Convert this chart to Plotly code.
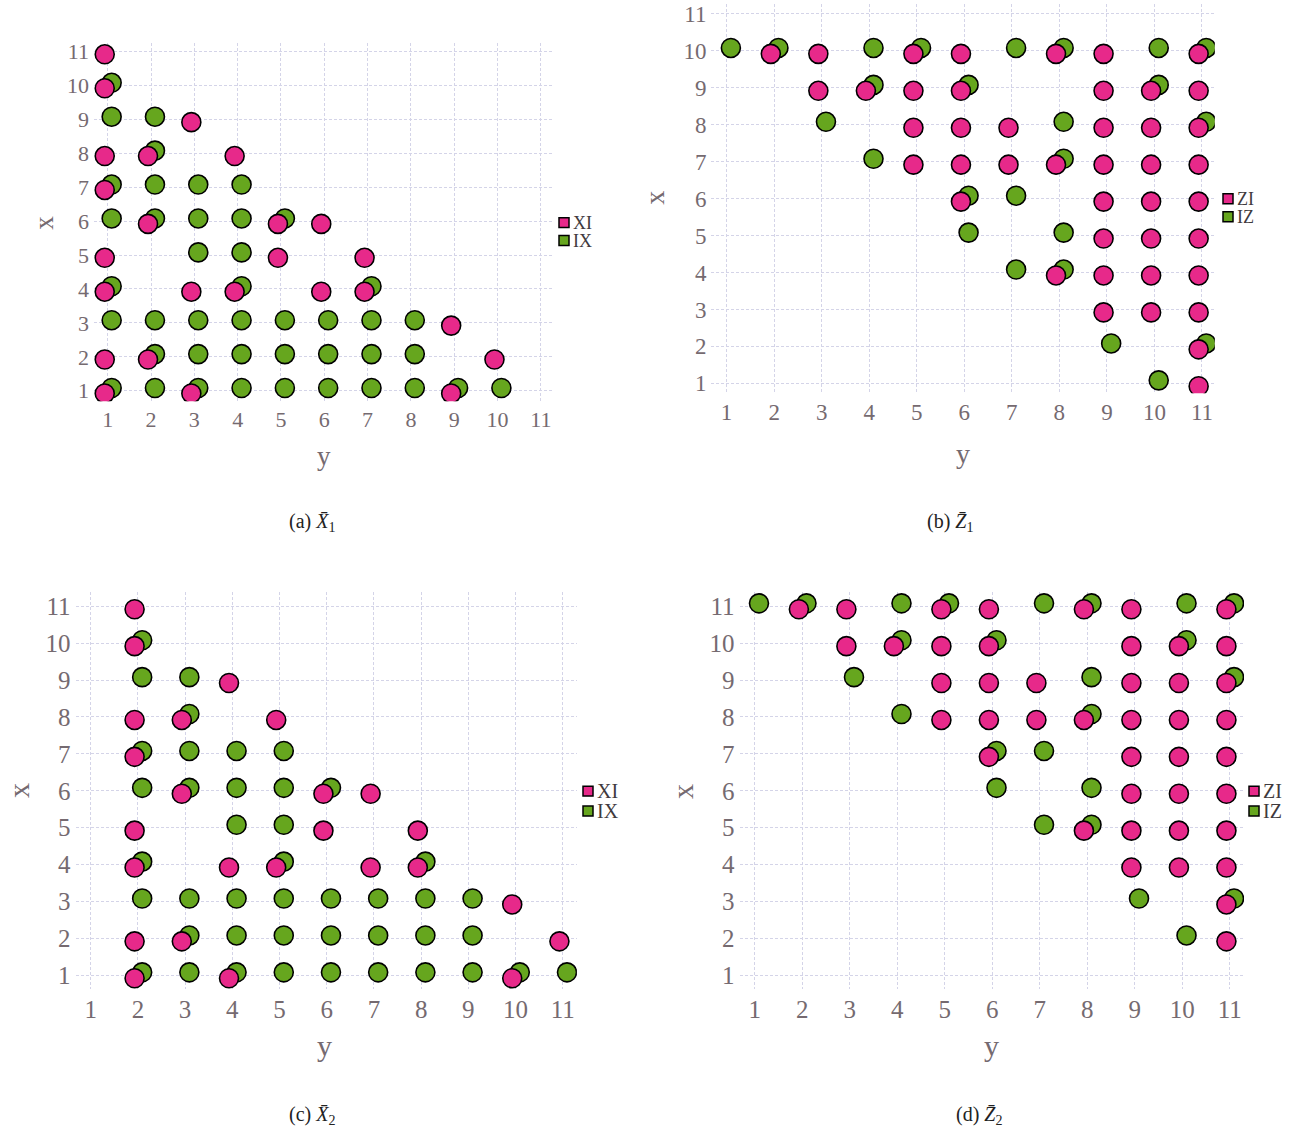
import plotly.graph_objects as go

# ---------------- data: (y, x) grid positions ----------------
# Panel (a)  X̄1
a_XI_y = [1, 1, 3, 1, 2, 4, 1, 2, 5, 6, 1, 5, 7, 1, 3, 4, 6, 7, 9, 1, 2, 10, 1, 3, 9]
a_XI_x = [11, 10, 9, 8, 8, 8, 7, 6, 6, 6, 5, 5, 5, 4, 4, 4, 4, 4, 3, 2, 2, 2, 1, 1, 1]
a_IX_y = [1, 1, 2, 2, 1, 2, 3, 4, 1, 2, 3, 4, 5, 3, 4, 1, 4, 7,
          1, 2, 3, 4, 5, 6, 7, 8, 2, 3, 4, 5, 6, 7, 8, 1, 2, 3, 4, 5, 6, 7, 8, 9, 10]
a_IX_x = [10, 9, 9, 8, 7, 7, 7, 7, 6, 6, 6, 6, 6, 5, 5, 4, 4, 4,
          3, 3, 3, 3, 3, 3, 3, 3, 2, 2, 2, 2, 2, 2, 2, 1, 1, 1, 1, 1, 1, 1, 1, 1, 1]

# Panel (b)  Z̄1
b_ZI_y = [2, 3, 5, 6, 8, 9, 11, 3, 4, 5, 6, 9, 10, 11, 5, 6, 7, 9, 10, 11,
          5, 6, 7, 8, 9, 10, 11, 6, 9, 10, 11, 9, 10, 11, 8, 9, 10, 11, 9, 10, 11, 11, 11]
b_ZI_x = [10, 10, 10, 10, 10, 10, 10, 9, 9, 9, 9, 9, 9, 9, 8, 8, 8, 8, 8, 8,
          7, 7, 7, 7, 7, 7, 7, 6, 6, 6, 6, 5, 5, 5, 4, 4, 4, 4, 3, 3, 3, 2, 1]
b_IZ_y = [1, 2, 4, 5, 7, 8, 10, 11, 4, 6, 10, 3, 8, 11, 4, 8, 6, 7, 6, 8, 7, 8, 9, 11, 10]
b_IZ_x = [10, 10, 10, 10, 10, 10, 10, 10, 9, 9, 9, 8, 8, 8, 7, 7, 6, 6, 5, 5, 4, 4, 2, 2, 1]

# Panel (c)  X̄2
c_XI_y = [2, 2, 4, 2, 3, 5, 2, 3, 6, 7, 2, 6, 8, 2, 4, 5, 7, 8, 10, 2, 3, 11, 2, 4, 10]
c_XI_x = [11, 10, 9, 8, 8, 8, 7, 6, 6, 6, 5, 5, 5, 4, 4, 4, 4, 4, 3, 2, 2, 2, 1, 1, 1]
c_IX_y = [2, 2, 3, 3, 2, 3, 4, 5, 2, 3, 4, 5, 6, 4, 5, 2, 5, 8,
          2, 3, 4, 5, 6, 7, 8, 9, 3, 4, 5, 6, 7, 8, 9, 2, 3, 4, 5, 6, 7, 8, 9, 10, 11]
c_IX_x = [10, 9, 9, 8, 7, 7, 7, 7, 6, 6, 6, 6, 6, 5, 5, 4, 4, 4,
          3, 3, 3, 3, 3, 3, 3, 3, 2, 2, 2, 2, 2, 2, 2, 1, 1, 1, 1, 1, 1, 1, 1, 1, 1]

# Panel (d)  Z̄2
d_ZI_y = [2, 3, 5, 6, 8, 9, 11, 3, 4, 5, 6, 9, 10, 11, 5, 6, 7, 9, 10, 11,
          5, 6, 7, 8, 9, 10, 11, 6, 9, 10, 11, 9, 10, 11, 8, 9, 10, 11, 9, 10, 11, 11, 11]
d_ZI_x = [11, 11, 11, 11, 11, 11, 11, 10, 10, 10, 10, 10, 10, 10, 9, 9, 9, 9, 9, 9,
          8, 8, 8, 8, 8, 8, 8, 7, 7, 7, 7, 6, 6, 6, 5, 5, 5, 5, 4, 4, 4, 3, 2]
d_IZ_y = [1, 2, 4, 5, 7, 8, 10, 11, 4, 6, 10, 3, 8, 11, 4, 8, 6, 7, 6, 8, 7, 8, 9, 11, 10]
d_IZ_x = [11, 11, 11, 11, 11, 11, 11, 11, 10, 10, 10, 9, 9, 9, 8, 8, 7, 7, 6, 6, 5, 5, 3, 3, 2]

tick_vals = list(range(1, 12))
tick_text = [str(v) for v in tick_vals]

captions = ["(a) <i>X\u0304</i><sub>1</sub>", "(b) <i>Z\u0304</i><sub>1</sub>",
            "(c) <i>X\u0304</i><sub>2</sub>", "(d) <i>Z\u0304</i><sub>2</sub>"]

# ---------------- styling ----------------
PINK = "#e7298a"
GREEN = "#66a61e"
TICK_COL = "#756a70"
GRID_COL = "#d4d4e8"
LEG_COL = "#3f3a3d"
FONT = "Liberation Serif, DejaVu Serif, serif"
W, H = 1314, 1137
MSIZE = 19

PINK_DX, PINK_DY = -0.07, -0.08
GREEN_DX, GREEN_DY = 0.09, 0.08

def px_x(p):
    return p / W

def px_y(p):
    return 1 - p / H

panels = [
    dict(key="", dom=(93.9, 553.8, 39.7, 399.7), xr=[0.68, 11.3], yr=[0.69, 11.24], fs=22,
         pink=(a_XI_y, a_XI_x, "XI"), green=(a_IX_y, a_IX_x, "IX"),
         leg=(564, 220, 238), lfs=18, xt=(44, 220), yt=(324, 455), cap=(312, 522)),
    dict(key="2", dom=(711.4, 1214.8, 0.0, 391.7), xr=[0.68, 11.27], yr=[0.73, 11.27], fs=23,
         pink=(b_ZI_y, b_ZI_x, "ZI"), green=(b_IZ_y, b_IZ_x, "IZ"),
         leg=(1228, 196, 214), lfs=18, xt=(655, 195), yt=(963, 452), cap=(950, 522)),
    dict(key="3", dom=(75.6, 576.9, 591.9, 991.4), xr=[0.68, 11.3], yr=[0.62, 11.38], fs=25,
         pink=(c_XI_y, c_XI_x, "XI"), green=(c_IX_y, c_IX_x, "IX"),
         leg=(588, 792, 812), lfs=20, xt=(18, 792), yt=(324, 1048), cap=(312, 1118)),
    dict(key="4", dom=(739.5, 1244.0, 591.9, 991.4), xr=[0.68, 11.3], yr=[0.62, 11.38], fs=25,
         pink=(d_ZI_y, d_ZI_x, "ZI"), green=(d_IZ_y, d_IZ_x, "IZ"),
         leg=(1254, 792, 812), lfs=20, xt=(682, 793), yt=(991, 1048), cap=(979, 1118)),
]

fig = go.Figure()
annotations = []
shapes = []
layout_upd = {}
SQ = 5  # half side of legend key square, px

for p in panels:
    k = p["key"]
    xa, ya = "x" + k, "y" + k
    gy, gx, gname = p["green"]
    py_, px_, pname = p["pink"]
    # green first (drawn below), pink on top
    fig.add_trace(go.Scatter(
        x=[v + GREEN_DX for v in gy], y=[v + GREEN_DY for v in gx], mode="markers", name=gname,
        marker=dict(size=MSIZE, color=GREEN, line=dict(color="black", width=1.6)),
        xaxis=xa, yaxis=ya, showlegend=False, hoverinfo="skip"))
    fig.add_trace(go.Scatter(
        x=[v + PINK_DX for v in py_], y=[v + PINK_DY for v in px_], mode="markers", name=pname,
        marker=dict(size=MSIZE, color=PINK, line=dict(color="black", width=1.6)),
        xaxis=xa, yaxis=ya, showlegend=False, hoverinfo="skip"))

    x0, x1, yt_, yb_ = p["dom"]
    axis_common = dict(
        showgrid=True, gridcolor=GRID_COL, gridwidth=1, griddash="3px,2px",
        zeroline=False, showline=False, ticks="",
        tickvals=tick_vals, ticktext=tick_text,
        tickfont=dict(family=FONT, size=p["fs"], color=TICK_COL),
        fixedrange=True,
    )
    layout_upd["xaxis" + k] = dict(axis_common, domain=[px_x(x0), px_x(x1)], range=p["xr"],
                                   anchor=ya, ticklabelstandoff=3)
    layout_upd["yaxis" + k] = dict(axis_common, domain=[px_y(yb_), px_y(yt_)], range=p["yr"],
                                   anchor=xa, ticklabelstandoff=4)

    # legend keys (squares) + labels
    lx, ly1, ly2 = p["leg"]
    for name, col, ly in [(pname, PINK, ly1), (gname, GREEN, ly2)]:
        shapes.append(dict(type="rect", xref="paper", yref="paper",
                           x0=px_x(lx - SQ), x1=px_x(lx + SQ), y0=px_y(ly + SQ), y1=px_y(ly - SQ),
                           fillcolor=col, line=dict(color="black", width=1.5)))
        annotations.append(dict(text=name, x=px_x(lx + SQ + 3), y=px_y(ly), xref="paper", yref="paper",
                                showarrow=False, xanchor="left", yanchor="middle", borderpad=0,
                                font=dict(family=FONT, size=p["lfs"], color=LEG_COL)))

    # axis titles
    tx, ty = p["xt"]
    annotations.append(dict(text="x", x=px_x(tx), y=px_y(ty), xref="paper", yref="paper",
                            showarrow=False, textangle=-90,
                            font=dict(family=FONT, size=p["fs"] + 5, color=TICK_COL),
                            xanchor="center", yanchor="middle"))
    sx, sy = p["yt"]
    annotations.append(dict(text="y", x=px_x(sx), y=px_y(sy), xref="paper", yref="paper",
                            showarrow=False,
                            font=dict(family=FONT, size=p["fs"] + 5, color=TICK_COL),
                            xanchor="center", yanchor="middle"))

for p, cap in zip(panels, captions):
    cx, cy = p["cap"]
    annotations.append(dict(text=cap, x=px_x(cx), y=px_y(cy), xref="paper", yref="paper",
                            showarrow=False, font=dict(family=FONT, size=20, color="#222222"),
                            xanchor="center", yanchor="middle"))

fig.update_layout(
    width=W, height=H,
    margin=dict(l=0, r=0, t=0, b=0),
    paper_bgcolor="white", plot_bgcolor="white",
    showlegend=False,
    annotations=annotations,
    shapes=shapes,
    **layout_upd,
)

fig.write_html("out.html", config={"displayModeBar": False},
               post_script="document.body.style.margin='0px';")
